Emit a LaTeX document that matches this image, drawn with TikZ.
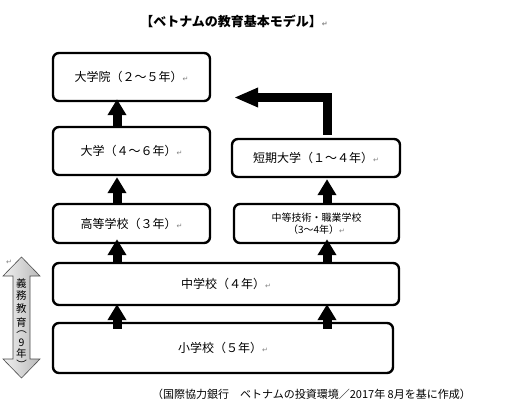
\documentclass[tikz,border=0pt]{standalone}
\usepackage{fontspec}
\usepackage{graphicx}
\setmainfont{Noto Sans CJK JP}
\newfontfamily\dv{DejaVu Sans}
\usetikzlibrary{arrows.meta}
\newcommand{\pmark}{{\dv\fontsize{7}{7}\selectfont\color{gray}↵}}
\begin{document}
\begin{tikzpicture}[x=1pt,y=-1pt,
  box/.style={draw, line width=2.4pt, rounded corners=6pt, inner sep=0pt, fill=white,
    font=\fontsize{12}{14}\selectfont, anchor=center},
  blk/.style={line width=9pt, -{Triangle[width=18pt,length=16pt]}},
  bent/.style={line width=9pt, line join=miter, -{Triangle[width=18pt,length=24pt]}},
  vch/.style={font=\fontsize{10.5}{10.5}\selectfont, inner sep=0pt}]
\useasboundingbox (0,0) rectangle (505,412);
\fill[white] (0,0) rectangle (505,412);

% title
\node[font=\bfseries\fontsize{13}{15}\selectfont] (title) at (234,21) {【ベトナムの教育基本モデル】\pmark};

% boxes
\node[box, minimum width=157pt, minimum height=48pt] (B1) at (131.5,77) {大学院（２～５年）\pmark};
\node[box, minimum width=157pt, minimum height=48pt] (B2) at (131.5,151) {大学（４～６年）\pmark};
\node[box, minimum width=157pt, minimum height=39pt] (B3) at (131.5,223.5) {高等学校（３年）\pmark};
\node[box, minimum width=168pt, minimum height=38pt] (B4) at (316,158) {短期大学（１～４年）\pmark};
\node[box, minimum width=165pt, minimum height=39pt, align=center, font=\fontsize{10}{12}\selectfont] (B5) at (316.5,223.5) {中等技術・職業学校\\（3～4年）\pmark};
\node[box, minimum width=346pt, minimum height=42pt] (B6) at (226,284) {中学校（４年）\pmark};
\node[box, minimum width=340pt, minimum height=50pt] (B7) at (223,348) {小学校（５年）\pmark};

% arrows
\coordinate (xL) at (117,0);
\coordinate (xR) at (327,0);
\coordinate (btip) at (234,97.5);
\draw[blk] (B2.north -| xL) -- ([yshift=3pt]B1.south -| xL);
\draw[blk] (B3.north -| xL) -- ([yshift=-1pt]B2.south -| xL);
\draw[blk] (B6.north -| xL) -- ([yshift=5pt]B3.south -| xL);
\draw[blk] (B6.north -| xR) -- ([yshift=5pt]B5.south -| xR);
\draw[blk] (B5.north -| xR) -- ([yshift=-1pt]B4.south -| xR);
\draw[blk] ([yshift=-7pt]B7.north -| xL) -- ([yshift=2pt]B6.south -| xL);
\draw[blk] ([yshift=-7pt]B7.north -| xR) -- ([yshift=2pt]B6.south -| xR);
\draw[bent] ([yshift=3pt]B4.north -| xR) |- (btip);

% compulsory education double arrow
\shade[left color=gray!12, right color=gray!55, draw=gray!60!black, line width=0.6pt]
  (21.5,257) -- (40,276) -- (30,276) -- (30,359) -- (40,359) -- (21.5,378)
  -- (3,359) -- (13,359) -- (13,276) -- (3,276) -- cycle;
\foreach \c/\yy [count=\i] in {義/283, 務/296, 教/309, 育/322, 9/343, 年/353}
  \node[vch] (v\i) at (21.5,\yy) {\c};
\node[vch] (vpo) at (21.5,329) {\rotatebox{-90}{（}};
\node[vch] (vpc) at (21.5,365) {\rotatebox{-90}{）}};
\node[inner sep=0pt] (pm1) at (9,262) {\pmark};

% caption
\node[font=\fontsize{11}{13}\selectfont] (cap) at (311.5,394) {（国際協力銀行　ベトナムの投資環境／2017年 8月を基に作成）};
\end{tikzpicture}
\end{document}
